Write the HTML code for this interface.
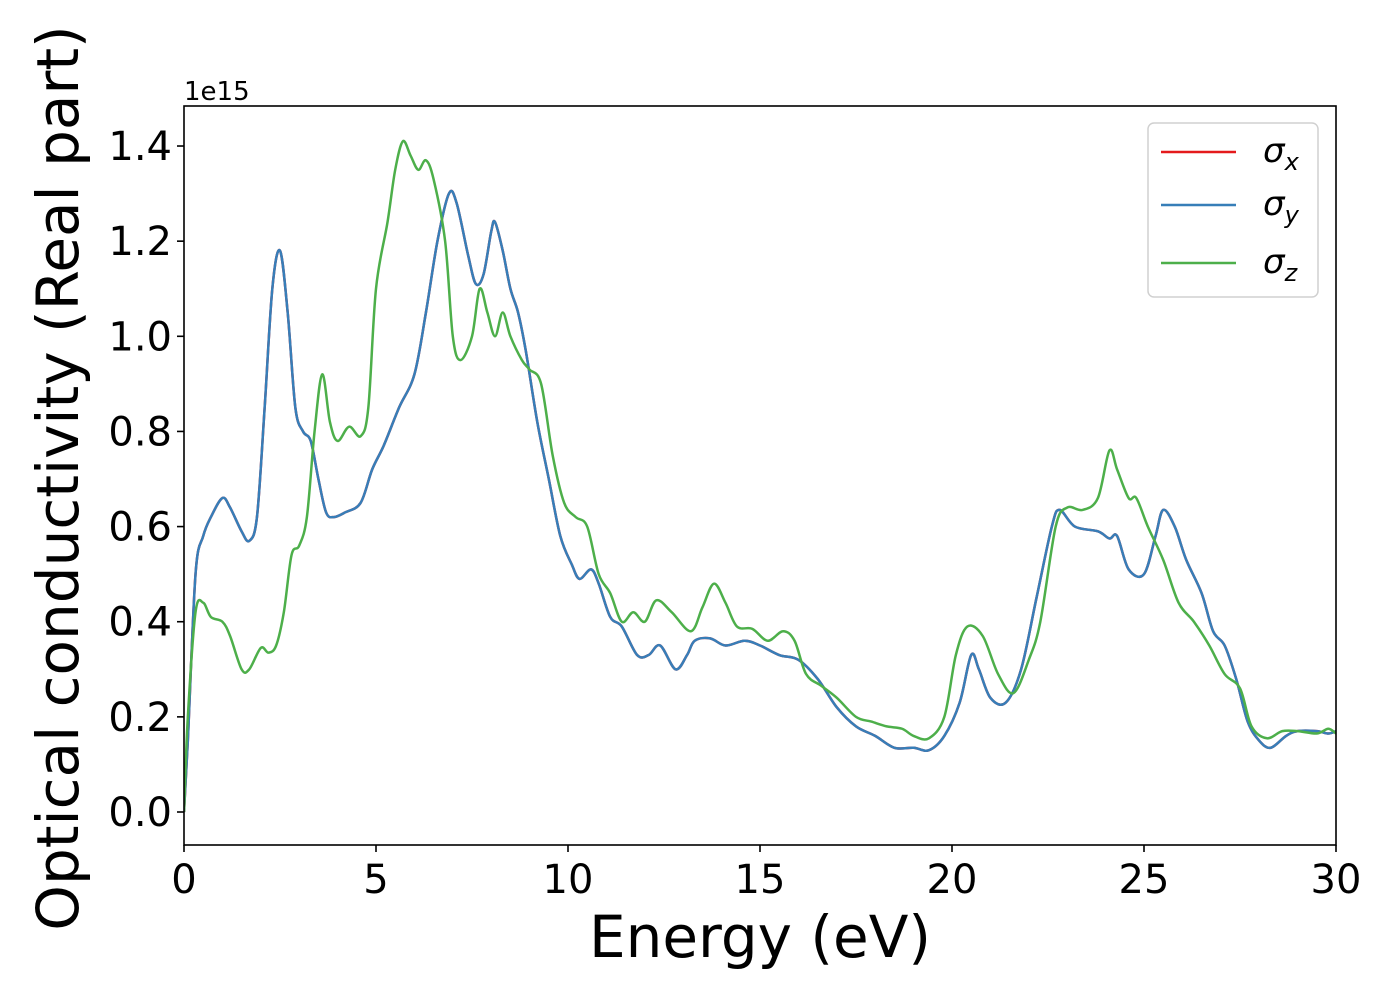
<!DOCTYPE html>
<html><head><meta charset="utf-8"><style>
body{margin:0;background:#fff;}
svg text{font-family:"DejaVu Sans","Liberation Sans",sans-serif;}
</style></head><body>
<svg id="chart" width="1400" height="1000" xmlns="http://www.w3.org/2000/svg">
<g id="plot"></g>
</svg>
<script>
const energyXY=[0,0.1,0.3,0.5,0.7,1.0,1.2,1.5,1.7,1.9,2.1,2.3,2.5,2.7,2.9,3.1,3.3,3.5,3.7,3.9,4.2,4.6,4.9,5.2,5.6,6.0,6.3,6.6,6.9,7.1,7.4,7.6,7.8,8.0,8.1,8.3,8.5,8.7,8.9,9.2,9.5,9.8,10.1,10.3,10.6,10.8,11.1,11.4,11.8,12.1,12.4,12.8,13.1,13.3,13.7,14.1,14.6,15.0,15.5,16.0,16.5,17.0,17.5,18.0,18.5,19.0,19.4,19.8,20.2,20.5,20.7,21.0,21.4,21.8,22.2,22.6,22.8,23.2,23.8,24.1,24.3,24.6,25.0,25.3,25.5,25.8,26.1,26.5,26.8,27.1,27.4,27.7,28.0,28.3,28.7,29.0,29.5,29.8,30];
const sigmaXY=[0,0.15,0.5,0.58,0.62,0.66,0.64,0.59,0.57,0.62,0.85,1.1,1.18,1.05,0.85,0.8,0.78,0.7,0.63,0.62,0.63,0.65,0.72,0.77,0.85,0.92,1.05,1.2,1.3,1.28,1.17,1.11,1.13,1.22,1.24,1.18,1.1,1.05,0.97,0.82,0.7,0.58,0.52,0.49,0.51,0.48,0.41,0.39,0.33,0.33,0.35,0.3,0.33,0.36,0.365,0.35,0.36,0.35,0.33,0.32,0.28,0.22,0.18,0.16,0.135,0.135,0.13,0.16,0.23,0.33,0.3,0.24,0.23,0.3,0.45,0.6,0.635,0.6,0.59,0.575,0.58,0.51,0.5,0.58,0.635,0.6,0.53,0.46,0.38,0.35,0.28,0.19,0.15,0.135,0.16,0.17,0.17,0.165,0.17];
const energyZ=[0,0.1,0.3,0.5,0.7,1.0,1.2,1.5,1.7,2.0,2.2,2.4,2.6,2.8,3.0,3.2,3.4,3.6,3.8,4.0,4.3,4.6,4.8,5.0,5.3,5.5,5.7,5.9,6.1,6.3,6.5,6.8,7.0,7.2,7.5,7.7,7.9,8.1,8.3,8.5,8.8,9.0,9.3,9.6,9.9,10.2,10.5,10.8,11.1,11.4,11.7,12.0,12.3,12.7,13.2,13.5,13.8,14.1,14.4,14.8,15.2,15.6,15.9,16.2,16.6,17.0,17.5,17.9,18.3,18.7,19.0,19.4,19.8,20.1,20.4,20.8,21.2,21.6,22.0,22.3,22.7,23.0,23.4,23.8,24.1,24.3,24.6,24.8,25.1,25.5,25.9,26.3,26.7,27.1,27.5,27.8,28.2,28.6,29.0,29.5,29.8,30];
const sigmaZ=[0,0.2,0.42,0.44,0.41,0.4,0.37,0.3,0.3,0.345,0.335,0.35,0.42,0.54,0.56,0.62,0.8,0.92,0.82,0.78,0.81,0.79,0.85,1.1,1.24,1.35,1.41,1.38,1.35,1.37,1.33,1.2,1.0,0.95,1.0,1.1,1.05,1.0,1.05,1.0,0.95,0.93,0.9,0.75,0.65,0.62,0.6,0.5,0.46,0.4,0.42,0.4,0.445,0.42,0.38,0.43,0.48,0.44,0.39,0.385,0.36,0.38,0.36,0.29,0.265,0.24,0.2,0.19,0.18,0.175,0.16,0.155,0.2,0.33,0.39,0.37,0.29,0.25,0.32,0.4,0.6,0.64,0.635,0.66,0.76,0.72,0.66,0.66,0.6,0.53,0.44,0.4,0.35,0.29,0.26,0.18,0.155,0.17,0.17,0.165,0.175,0.165];
const xTicks=[0,5,10,15,20,25,30];
const yTicks=[0,0.2,0.4,0.6,0.8,1.0,1.2,1.4];

const L=184,R=1336,T=106,B=845;
const xS=v=>L+(v-0)/30*(R-L);
const yS=v=>812-v*475.7;
const NS="http://www.w3.org/2000/svg";
const g=document.getElementById('plot');
function mk(tag,attrs){const e=document.createElementNS(NS,tag);for(const k in attrs)e.setAttribute(k,attrs[k]);g.appendChild(e);return e;}
function pathD(xs,ys){
  const p=xs.map((x,i)=>[xS(x),yS(ys[i])]);
  let d=`M${p[0][0]},${p[0][1]}`;
  for(let i=0;i<p.length-1;i++){
    const p0=p[Math.max(0,i-1)],p1=p[i],p2=p[i+1],p3=p[Math.min(p.length-1,i+2)];
    const c1x=p1[0]+(p2[0]-p0[0])/6,c1y=p1[1]+(p2[1]-p0[1])/6;
    const c2x=p2[0]-(p3[0]-p1[0])/6,c2y=p2[1]-(p3[1]-p1[1])/6;
    d+=`C${c1x},${c1y} ${c2x},${c2y} ${p2[0]},${p2[1]}`;
  }
  return d;
}
const defs=mk('clipPath',{id:'clip'});
const cr=document.createElementNS(NS,'rect');cr.setAttribute('x',L);cr.setAttribute('y',T);cr.setAttribute('width',R-L);cr.setAttribute('height',B-T);defs.appendChild(cr);

let e;
e=mk('path',{d:pathD(energyXY,sigmaXY),fill:'none',stroke:'#e41a1c','stroke-width':2.5,'clip-path':'url(#clip)'});

e=mk('path',{d:pathD(energyXY,sigmaXY),fill:'none',stroke:'#377eb8','stroke-width':2.5,'clip-path':'url(#clip)'});

e=mk('path',{d:pathD(energyZ,sigmaZ),fill:'none',stroke:'#4daf4a','stroke-width':2.5,'clip-path':'url(#clip)'});


e=mk('rect',{x:L,y:T,width:R-L,height:B-T,fill:'none',stroke:'#000','stroke-width':1.6});


xTicks.forEach(v=>{
  const x=xS(v);
  e=mk('line',{x1:x,x2:x,y1:B,y2:B+7,stroke:'#000','stroke-width':1.6});
  
  e=mk('text',{x:x,y:B+48,'font-size':40,'text-anchor':'middle'});e.textContent=v;
  
});
yTicks.forEach(v=>{
  const y=yS(v);
  e=mk('line',{x1:L-7,x2:L,y1:y,y2:y,stroke:'#000','stroke-width':1.6});
  
  e=mk('text',{x:L-12,y:y+14,'font-size':40,'text-anchor':'end'});e.textContent=v.toFixed(1);
  
});
e=mk('text',{x:184,y:100,'font-size':26});e.textContent='1e15';

e=mk('text',{x:760,y:957,'font-size':58,'text-anchor':'middle'});e.textContent='Energy (eV)';

e=mk('text',{x:0,y:0,'font-size':58,'text-anchor':'middle',transform:'translate(78,478) rotate(-90)'});e.textContent='Optical conductivity (Real part)';


e=mk('rect',{x:1148,y:123,width:170,height:174,rx:6,fill:'#fff',stroke:'#ccc','stroke-width':1.5,opacity:0.9});

[['#e41a1c',152,'x'],['#377eb8',205,'y'],['#4daf4a',263,'z']].forEach(([c,y,s])=>{
  e=mk('line',{x1:1161,x2:1236,y1:y,y2:y,stroke:c,'stroke-width':2.5});
  
  e=mk('text',{x:1263,y:y+10,'font-size':34,'font-style':'italic'});
  e.innerHTML='σ<tspan font-size="24" dy="8">'+s+'</tspan>';
  
});
</script>
</body></html>
